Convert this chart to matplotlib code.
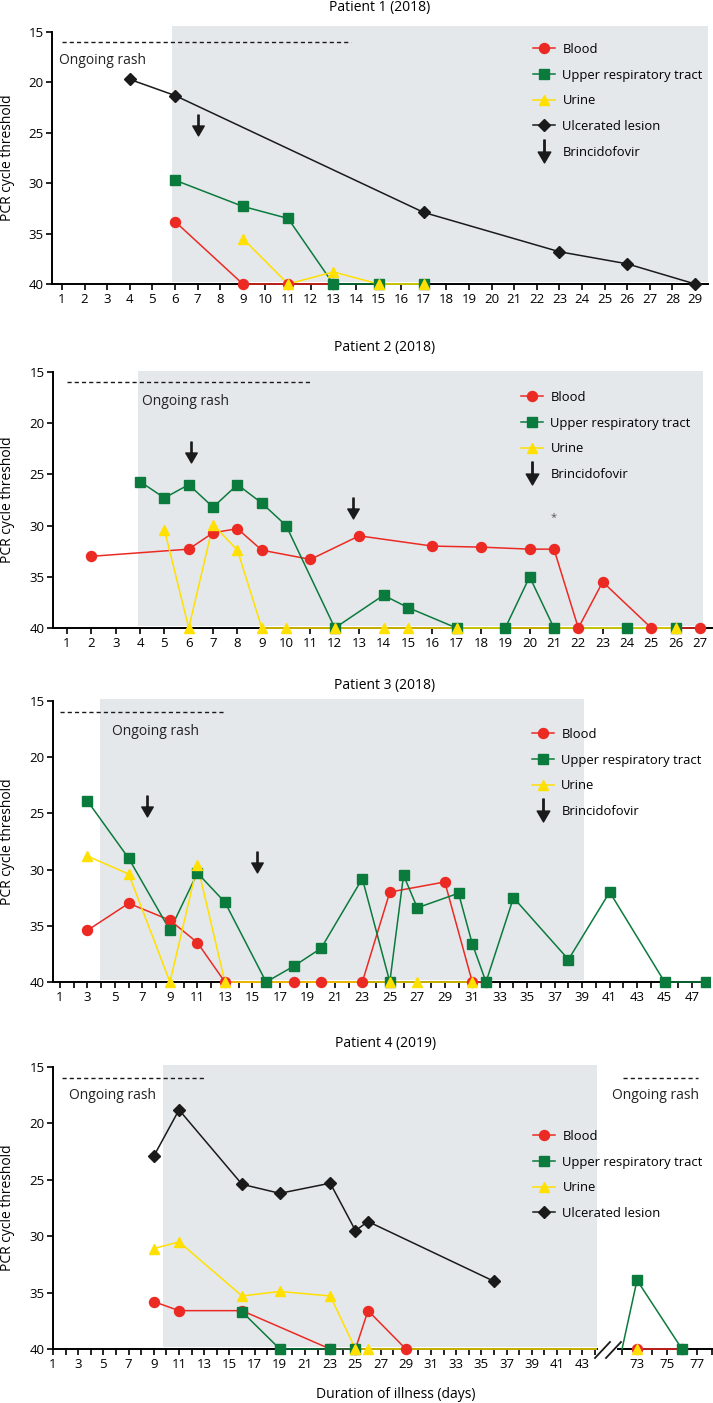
import matplotlib.pyplot as plt
from matplotlib.path import Path
from matplotlib.lines import Line2D

plt.rcParams['font.family'] = ['Open Sans', 'DejaVu Sans']

W, H = 713, 1403
RED = '#ec2a24'
GREEN = '#0b7a3d'
YELLOW = '#ffe000'
BLACK = '#1a1a1a'
SHADE = '#e5e8eb'

# ---- Patient 1 (2018)
p1_blood_x = [6, 9, 11, 13]
p1_blood_y = [33.8, 40, 40, 40]
p1_urt_x = [6, 9, 11, 13, 15, 17]
p1_urt_y = [29.7, 32.3, 33.5, 40, 40, 40]
p1_urine_x = [9, 11, 13, 15, 17]
p1_urine_y = [35.5, 40, 38.8, 40, 40]
p1_lesion_x = [4, 6, 17, 23, 26, 29]
p1_lesion_y = [19.7, 21.3, 32.9, 36.8, 38.0, 40]
p1_bcv_x = [7]
p1_bcv_y = [24.2]

# ---- Patient 2 (2018)
p2_blood_x = [2, 6, 7, 8, 9, 11, 13, 16, 18, 20, 21, 22, 23, 25, 27]
p2_blood_y = [33.0, 32.3, 30.7, 30.3, 32.4, 33.3, 31.0, 32.0, 32.1, 32.3, 32.3, 40, 35.5, 40, 40]
p2_urt_x = [4, 5, 6, 7, 8, 9, 10, 12, 14, 15, 17, 19, 20, 21, 24, 26]
p2_urt_y = [25.7, 27.3, 26.0, 28.2, 26.0, 27.8, 30.0, 40, 36.8, 38.0, 40, 40, 35.0, 40, 40, 40]
p2_urine_x = [5, 6, 7, 8, 9, 10, 12, 14, 15, 17, 26]
p2_urine_y = [30.4, 40, 29.9, 32.4, 40, 40, 40, 40, 40, 40, 40]
p2_bcv_x = [6.1, 12.75]
p2_bcv_y = [22.85, 28.25]

# ---- Patient 3 (2018)
p3_blood_x = [3, 6, 9, 11, 13, 18, 20, 23, 25, 29, 31, 32]
p3_blood_y = [35.4, 33.0, 34.5, 36.5, 40, 40, 40, 40, 32.0, 31.1, 40, 40]
p3_urt_x = [3, 6, 9, 11, 13, 16, 18, 20, 23, 25, 26, 27, 30, 31, 32, 34, 38, 41, 45, 48]
p3_urt_y = [23.9, 29.0, 35.4, 30.3, 32.9, 40, 38.6, 37.0, 30.8, 40, 30.5, 33.4, 32.1, 36.6,
            40, 32.5, 38.0, 32.0, 40, 40]
p3_urine_x = [3, 6, 9, 11, 13, 25, 27, 31]
p3_urine_y = [28.8, 30.4, 40, 29.6, 40, 40, 40, 40]
p3_bcv_x = [7.3, 15.3]
p3_bcv_y = [24.35, 29.35]

# ---- Patient 4 (2019), days 1-44 and 72-78
p4_blood_x = [9, 11, 16, 23, 25, 26, 29]
p4_blood_y = [35.8, 36.6, 36.6, 40, 40, 36.6, 40]
p4_urt_x = [16, 19, 23, 25]
p4_urt_y = [36.7, 40, 40, 40]
p4_urine_x = [9, 11, 16, 19, 23, 25, 26, 73]
p4_urine_y = [31.1, 30.5, 35.3, 34.9, 35.3, 40, 40, 40]
p4_lesion_x = [9, 11, 16, 19, 23, 25, 26, 36]
p4_lesion_y = [22.9, 18.8, 25.4, 26.2, 25.3, 29.5, 28.7, 34.0]
p4r_blood_x = [73, 76]
p4r_blood_y = [40, 40]
p4r_urt_x = [72, 73, 76]
p4r_urt_y = [40, 33.9, 40]
p4r_urine_x = [73]
p4r_urine_y = [40]

# arrow marker for brincidofovir
arrow = Path([(-0.06, 1), (0.06, 1), (0.06, -0.1), (-0.06, -0.1), (-0.06, 1),
              (-0.55, -0.05), (0.55, -0.05), (0, -1), (-0.55, -0.05)],
             [Path.MOVETO, Path.LINETO, Path.LINETO, Path.LINETO, Path.CLOSEPOLY,
              Path.MOVETO, Path.LINETO, Path.LINETO, Path.CLOSEPOLY])

STYLE = {
    'Blood': (RED, 'o', 7.2),
    'Upper respiratory tract': (GREEN, 's', 7),
    'Urine': (YELLOW, '^', 7.5),
    'Ulcerated lesion': (BLACK, 'D', 5.8),
}

TICK_FS = 9.5
TEXT_FS = 10
LEG_FS = 9.4

fig = plt.figure(figsize=(W / 100, H / 100), dpi=100)


def make_ax(x0, x1, y15, y40, ytop, xlim, left=True):
    ppu = (y40 - y15) / 25
    top = y15 - (15 - ytop) * ppu
    bottom = y40 + 0.8 * ppu
    ax = fig.add_axes([x0 / W, 1 - bottom / H, (x1 - x0) / W, (bottom - top) / H])
    ax.set_xlim(*xlim)
    ax.set_ylim(40.8, ytop)
    ax.set_facecolor('none')
    for s in ['top', 'right']:
        ax.spines[s].set_visible(False)
    ax.spines['bottom'].set_position(('data', 40))
    ax.spines['bottom'].set_linewidth(1.4)
    ax.tick_params(axis='x', direction='out', length=4.5, width=1.2, labelsize=TICK_FS, pad=2)
    if left:
        ax.spines['left'].set_bounds(15, 40)
        ax.spines['left'].set_linewidth(1.4)
        ax.set_yticks([15, 20, 25, 30, 35, 40])
        ax.tick_params(axis='y', direction='out', length=4.5, width=1.2, labelsize=TICK_FS, pad=1.5)
        fig.text(8 / W, 1 - (y15 + y40) / 2 / H, 'PCR cycle threshold', rotation=90,
                 ha='center', va='center', fontsize=TEXT_FS)
    else:
        ax.spines['left'].set_visible(False)
        ax.set_yticks([])
    return ax


def draw(ax, series):
    # lines first, markers after, so that markers sit above every line
    for name, xs, ys, mk in series:
        c = STYLE[name][0]
        ax.plot(xs, ys, color=c, lw=1.1, zorder=3)
    for name, xs, ys, mk in series:
        c, m, ms = STYLE[name]
        ax.plot(xs, ys, ls='none', marker=m, ms=ms, color=c, mec=c, zorder=4,
                markevery=mk)


def shade(ax, x0, x1, ytop):
    ax.fill_between([x0, x1], ytop, 39.8, color=SHADE, lw=0, zorder=0)


def rash(ax, x0, x1, tx, ty, ha='left'):
    ax.plot([x0, x1], [16, 16], color=BLACK, lw=1, ls=(0, (3, 2.2)), zorder=2)
    ax.text(tx, ty, 'Ongoing rash', ha=ha, va='center', fontsize=TEXT_FS, color='#222222')


def bcv(ax, xs, ys):
    ax.plot(xs, ys, ls='none', marker=arrow, ms=15, color=BLACK, zorder=5)


def legend(ax, px, py, names, with_bcv):
    handles = []
    for n in names:
        c, m, ms = STYLE[n]
        handles.append(Line2D([], [], color=c, lw=1.1, marker=m, ms=ms, mec=c, label=n))
    if with_bcv:
        handles.append(Line2D([], [], ls='none', marker=arrow, ms=16.5, color=BLACK,
                              label='Brincidofovir'))
    ax.legend(handles=handles, loc='upper left', bbox_to_anchor=(px / W, 1 - py / H),
              bbox_transform=fig.transFigure, frameon=False, fontsize=LEG_FS,
              handlelength=1.65, handletextpad=0.6, labelspacing=0.97,
              borderpad=0, borderaxespad=0, numpoints=1)


def title(px, py, s):
    fig.text(px / W, 1 - py / H, s, ha='center', va='center', fontsize=TEXT_FS)


# ---------------- Patient 1
ax1 = make_ax(52, 708, 32, 284, 14.4, (0.56, 29.57))
ax1.set_xticks(range(1, 30))
shade(ax1, 5.87, 29.57, 14.4)
rash(ax1, 1, 13.8, 0.87, 17.8)
draw(ax1, [('Blood', p1_blood_x, p1_blood_y, None),
           ('Upper respiratory tract', p1_urt_x, p1_urt_y, None),
           ('Urine', p1_urine_x, p1_urine_y, None),
           ('Ulcerated lesion', p1_lesion_x, p1_lesion_y, None)])
bcv(ax1, p1_bcv_x, p1_bcv_y)
legend(ax1, 533, 43, ['Blood', 'Upper respiratory tract', 'Urine', 'Ulcerated lesion'], True)
title(380, 7, 'Patient 1 (2018)')

# ---------------- Patient 2
ax2 = make_ax(53, 712, 372, 628, 14.9, (0.425, 27.49))
ax2.set_xticks(range(1, 28))
shade(ax2, 3.9, 27.1, 14.9)
rash(ax2, 1, 11, 4.08, 17.9)
draw(ax2, [('Blood', p2_blood_x, p2_blood_y, None),
           ('Upper respiratory tract', p2_urt_x, p2_urt_y, None),
           ('Urine', p2_urine_x, p2_urine_y, None)])
bcv(ax2, p2_bcv_x, p2_bcv_y)
ax2.text(21, 29.2, '*', ha='center', va='center', fontsize=8, color='#555555')
legend(ax2, 521, 391, ['Blood', 'Upper respiratory tract', 'Urine'], True)
title(385, 348, 'Patient 2 (2018)')

# ---------------- Patient 3
ax3 = make_ax(53, 710, 701, 982, 14.85, (0.49, 48.3))
ax3.set_xticks(range(1, 49))
ax3.set_xticklabels([str(d) if d % 2 else '' for d in range(1, 49)])
shade(ax3, 3.9, 39.1, 14.85)
rash(ax3, 1, 13.1, 4.78, 17.7)
draw(ax3, [('Blood', p3_blood_x, p3_blood_y, None),
           ('Upper respiratory tract', p3_urt_x, p3_urt_y, None),
           ('Urine', p3_urine_x, p3_urine_y, None)])
bcv(ax3, p3_bcv_x, p3_bcv_y)
legend(ax3, 532, 728, ['Blood', 'Upper respiratory tract', 'Urine'], True)
title(385, 685, 'Patient 3 (2018)')

# ---------------- Patient 4 (broken axis)
ax4 = make_ax(53, 597, 1067, 1349, 14.8, (1, 44.17))
ax4.set_xticks(range(1, 45))
ax4.set_xticklabels([str(d) if d % 2 else '' for d in range(1, 45)])
shade(ax4, 9.75, 44.17, 14.8)
rash(ax4, 1.69, 13.0, 2.27, 17.5)
draw(ax4, [('Blood', p4_blood_x, p4_blood_y, None),
           ('Upper respiratory tract', p4_urt_x, p4_urt_y, None),
           ('Urine', p4_urine_x, p4_urine_y, list(range(len(p4_urine_x) - 1))),
           ('Ulcerated lesion', p4_lesion_x, p4_lesion_y, None)])
legend(ax4, 533, 1130, ['Blood', 'Upper respiratory tract', 'Urine', 'Ulcerated lesion'], False)
title(386, 1043, 'Patient 4 (2019)')

ax4r = make_ax(618, 713, 1067, 1349, 14.8, (71.73, 78.07), left=False)
ax4r.set_xticks(range(72, 79))
ax4r.set_xticklabels([str(d) if d % 2 else '' for d in range(72, 79)])
rash(ax4r, 72.07, 77.07, 77.13, 17.5, ha='right')
draw(ax4r, [('Blood', p4r_blood_x, p4r_blood_y, None),
            ('Upper respiratory tract', p4r_urt_x, p4r_urt_y, [1, 2]),
            ('Urine', p4r_urine_x, p4r_urine_y, None)])

# axis break marks
for dx in (0, 11):
    fig.add_artist(Line2D([(595 + dx) / W, (610 + dx) / W], [1 - 1358 / H, 1 - 1342 / H],
                          color=BLACK, lw=1.3))

fig.text(396 / W, 1 - 1395 / H, 'Duration of illness (days)', ha='center', va='center',
         fontsize=TEXT_FS)

fig.savefig('out.png', dpi=100)
